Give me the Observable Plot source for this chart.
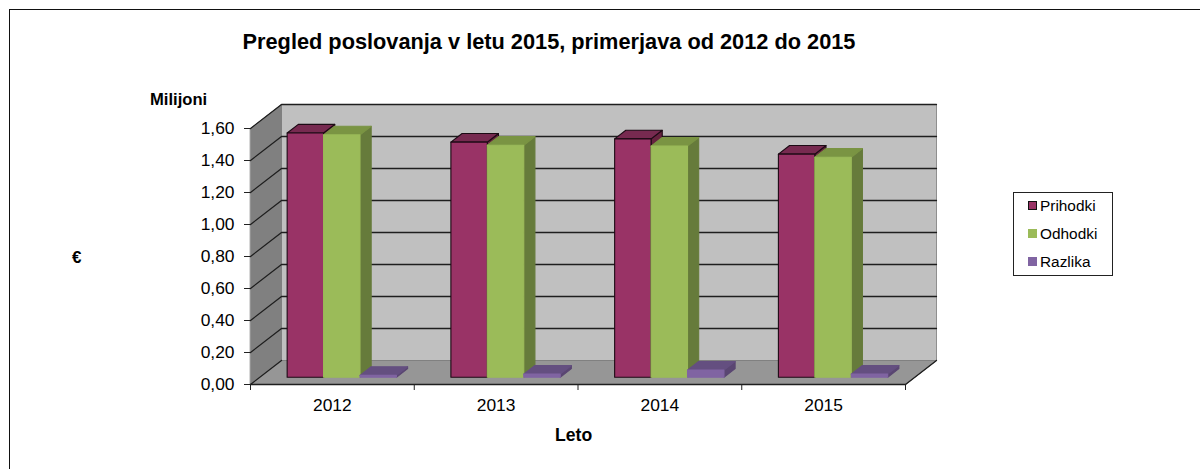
<!DOCTYPE html>
<html><head><meta charset="utf-8">
<script src="https://cdn.jsdelivr.net/npm/d3@7"></script>
<script src="https://cdn.jsdelivr.net/npm/@observablehq/plot@0.6"></script>
<style>
html,body{margin:0;padding:0;background:#fff;overflow:hidden}
#page{position:relative;width:1200px;height:469px;overflow:hidden;font-family:"Liberation Sans",Arial,sans-serif;color:#000}
#page svg{position:absolute;left:0;top:0;background:transparent}
.frame{position:absolute;left:9px;top:9px;width:1300px;height:600px;border:1px solid #111;box-sizing:border-box}
.t{position:absolute;white-space:nowrap;z-index:2;font-weight:bold}
#title{left:0;width:1098px;text-align:center;top:30px;font-size:21.75px;line-height:24px}
#euro{left:72px;top:248px;font-size:17px;line-height:20px}
#milijoni{left:150px;top:90px;font-size:16.6px;line-height:20px}
#leto{left:555px;top:425px;font-size:17.6px;line-height:20px}
#legend{position:absolute;z-index:2;left:1013px;top:192px;width:100px;height:84px;border:1px solid #222;box-sizing:border-box;background:#fff}
.li{position:absolute;left:14px;height:18px;font-size:15.4px;line-height:18px}
.sw{position:absolute;left:0;top:4px;width:9px;height:9px;box-sizing:border-box}
.li span.n{position:absolute;left:12px;white-space:nowrap}
</style></head>
<body><div id="page">
<div class="frame"></div>
<div id="title" class="t">Pregled poslovanja v letu 2015, primerjava od 2012 do 2015</div>
<div id="milijoni" class="t">Milijoni</div>
<div id="euro" class="t">€</div>
<div id="leto" class="t">Leto</div>
<div id="legend"></div>
<div id="chart"></div>
</div>
<script>
const years = ["2012", "2013", "2014", "2015"];
const seriesNames = ["Prihodki", "Odhodki", "Razlika"];
const prihodki = [1.527, 1.47, 1.49, 1.395];
const odhodki = [1.515, 1.45, 1.445, 1.375];
const razlika = [0.012, 0.02, 0.045, 0.02];
const yTicks = [0, 0.2, 0.4, 0.6, 0.8, 1.0, 1.2, 1.4, 1.6];
const seriesValues = [prihodki, odhodki, razlika];
const faceColors = [
  {front: "#993366", top: "#772a50", side: "#66223f", stroke: "#1c0a14"},
  {front: "#9bbb59", top: "#7a9443", side: "#667b3b", stroke: null},
  {front: "#8064a2", top: "#644f80", side: "#5a4672", stroke: null}
];

// oblique projection: depth d (0 front .. 1 back wall) shifts a point right and up
const depthX = 31 / 163.75, depthY = 0.15;
const P = (c, v, d) => ({x: c + d * depthX, y: v + d * depthY});
const n = years.length, vmax = 1.6;
const barW = 0.2225, gap = 0.167, d0 = 0.3, d1 = 0.66;

let polys = [], id = 0;
function poly(points, fill, stroke) {
  id++;
  for (const p of points) polys.push({...p, id, fill, stroke: stroke || fill});
}
poly([P(0,0,1),P(n,0,1),P(n,vmax,1),P(0,vmax,1)], "#c0c0c0", "#8f8f8f");   // back wall
poly([P(0,0,0),P(0,0,1),P(0,vmax,1),P(0,vmax,0)], "#808080", "#808080");   // side wall
poly([P(0,0,0),P(n,0,0),P(n,0,1),P(0,0,1)], "#969696", "#808080");         // floor
const wallCount = id;

const gridLines = [];
yTicks.forEach((t, i) => {
  if (i === 0) return;
  [P(0,t,0),P(0,t,1),P(n,t,1)].forEach(p => gridLines.push({...p, i}));
});
const edgeLines = [
  ...[P(0,0,0),P(0,0,1)].map(p => ({...p, i:"a"})),
  ...[P(n,0,0),P(n,0,1)].map(p => ({...p, i:"b"})),
  ...[P(0,0,0),P(n,0,0)].map(p => ({...p, i:"c"})),
];

seriesValues.forEach((vals, s) => {
  const col = faceColors[s];
  vals.forEach((v, k) => {
    const l = k + gap + s * barW, r = l + barW;
    poly([P(r,0,d0),P(r,0,d1),P(r,v,d1),P(r,v,d0)], col.side, col.stroke);
    poly([P(l,v,d0),P(r,v,d0),P(r,v,d1),P(l,v,d1)], col.top, col.stroke);
    poly([P(l,0,d0),P(r,0,d0),P(r,v,d0),P(l,v,d0)], col.front, col.stroke);
  });
});

const comma = d => d.toFixed(2).replace(".", ",");
const plot = Plot.plot({
  width: 1200, height: 469,
  marginLeft: 250, marginRight: 264, marginTop: 104, marginBottom: 85,
  style: {background: "transparent", fontFamily: '"Liberation Sans",Arial,sans-serif', color: "#000"},
  x: {domain: [0, n + depthX], axis: null},
  y: {domain: [0, vmax + depthY], axis: null},
  marks: [
    Plot.line(polys.filter(d => d.id <= wallCount), {x: "x", y: "y", z: "id", curve: "linear-closed", fill: "fill", stroke: "stroke", strokeWidth: 1}),
    Plot.line(gridLines, {x: "x", y: "y", z: "i", stroke: "#1e1e1e", strokeWidth: 1.3}),
    Plot.line(edgeLines, {x: "x", y: "y", z: "i", stroke: "#1e1e1e", strokeWidth: 1.3}),
    Plot.line(polys.filter(d => d.id > wallCount), {x: "x", y: "y", z: "id", curve: "linear-closed", fill: "fill", stroke: "stroke", strokeWidth: 1.1}),
    Plot.axisY({anchor: "left", ticks: yTicks, tickFormat: comma, tickSize: 6, tickPadding: 10, fontSize: 17.4, stroke: "#222", label: null}),
    Plot.axisX({anchor: "bottom", ticks: d3.range(n + 1), tickFormat: () => "", tickSize: 6, stroke: "#222", label: null}),
    Plot.axisX({anchor: "bottom", ticks: years.map((_, i) => i + 0.5), tickFormat: v => years[Math.floor(v)], tickSize: 0, tickPadding: 14, fontSize: 17.4, label: null})
  ]
});
document.getElementById("chart").appendChild(plot);

const legend = document.getElementById("legend");
seriesNames.forEach((name, i) => {
  const li = document.createElement("div");
  li.className = "li"; li.style.top = (4 + i * 28) + "px";
  const sw = document.createElement("div"); sw.className = "sw";
  sw.style.background = faceColors[i].front;
  if (faceColors[i].stroke) sw.style.border = "1.4px solid #111";
  const t = document.createElement("span"); t.className = "n"; t.textContent = name;
  li.append(sw, t); legend.appendChild(li);
});
</script>
</body></html>
